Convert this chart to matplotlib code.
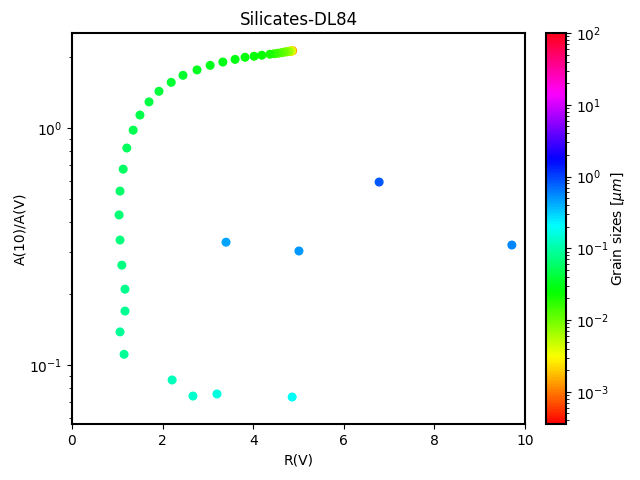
import numpy as np
import matplotlib
matplotlib.use("Agg")
import matplotlib.pyplot as plt
from matplotlib.colors import LogNorm

# R(V), A(10)/A(V), grain size (micron) for each model, smallest grains first
rv = [4.87, 4.86, 4.85, 4.845, 4.84, 4.83, 4.81, 4.79, 4.76, 4.72,
      4.68, 4.62, 4.55, 4.47, 4.37, 4.19, 4.02, 3.82, 3.60, 3.33,
      3.05, 2.76, 2.45, 2.19, 1.92, 1.70, 1.50, 1.35, 1.21, 1.13,
      1.06, 1.04, 1.06, 1.10, 1.17, 1.17, 1.06, 1.15,
      2.21, 2.67, 3.20, 4.86,
      3.40, 5.01, 9.71, 6.78]
ratio = [2.12, 2.12, 2.12, 2.12, 2.11, 2.11, 2.11, 2.11, 2.10, 2.10,
         2.09, 2.08, 2.07, 2.06, 2.05, 2.03, 2.01, 1.99, 1.95, 1.90,
         1.84, 1.76, 1.67, 1.56, 1.43, 1.29, 1.135, 0.98, 0.824, 0.671,
         0.542, 0.430, 0.337, 0.264, 0.209, 0.169, 0.138, 0.111,
         0.0865, 0.074, 0.0755, 0.0733,
         0.330, 0.303, 0.321, 0.592]
size = [0.0010, 0.0016, 0.0022, 0.0028, 0.0035, 0.0042, 0.005, 0.006, 0.0072, 0.0085,
        0.010, 0.012, 0.014, 0.017, 0.020, 0.023, 0.025, 0.026, 0.028, 0.030,
        0.032, 0.034, 0.036, 0.038, 0.041, 0.044, 0.047, 0.050, 0.053, 0.057,
        0.061, 0.065, 0.069, 0.074, 0.079, 0.084, 0.087, 0.090,
        0.12, 0.14, 0.16, 0.19,
        0.45, 0.50, 0.57, 0.85]

fig = plt.figure(figsize=(6.4, 4.8), dpi=100)
ax = fig.add_axes([0.1125, 0.1167, 0.7078, 0.8146])
cax = fig.add_axes([0.853, 0.1167, 0.03125, 0.8146])

sc = ax.scatter(rv, ratio, c=size, s=30, cmap="hsv",
                norm=LogNorm(vmin=3.57e-4, vmax=100))
ax.set_yscale("log")
ax.set_xlim(0, 10)
ax.set_ylim(0.0564, 2.52)
ax.set_xlabel("R(V)")
ax.set_ylabel("A(10)/A(V)", labelpad=1)
ax.set_title("Silicates-DL84")
for sp in ax.spines.values():
    sp.set_linewidth(1.5)

cb = fig.colorbar(sc, cax=cax)
cb.set_label(r"Grain sizes [$\mu m$]", labelpad=0)
cb.outline.set_linewidth(1.5)

fig.savefig("out.png", dpi=100)
